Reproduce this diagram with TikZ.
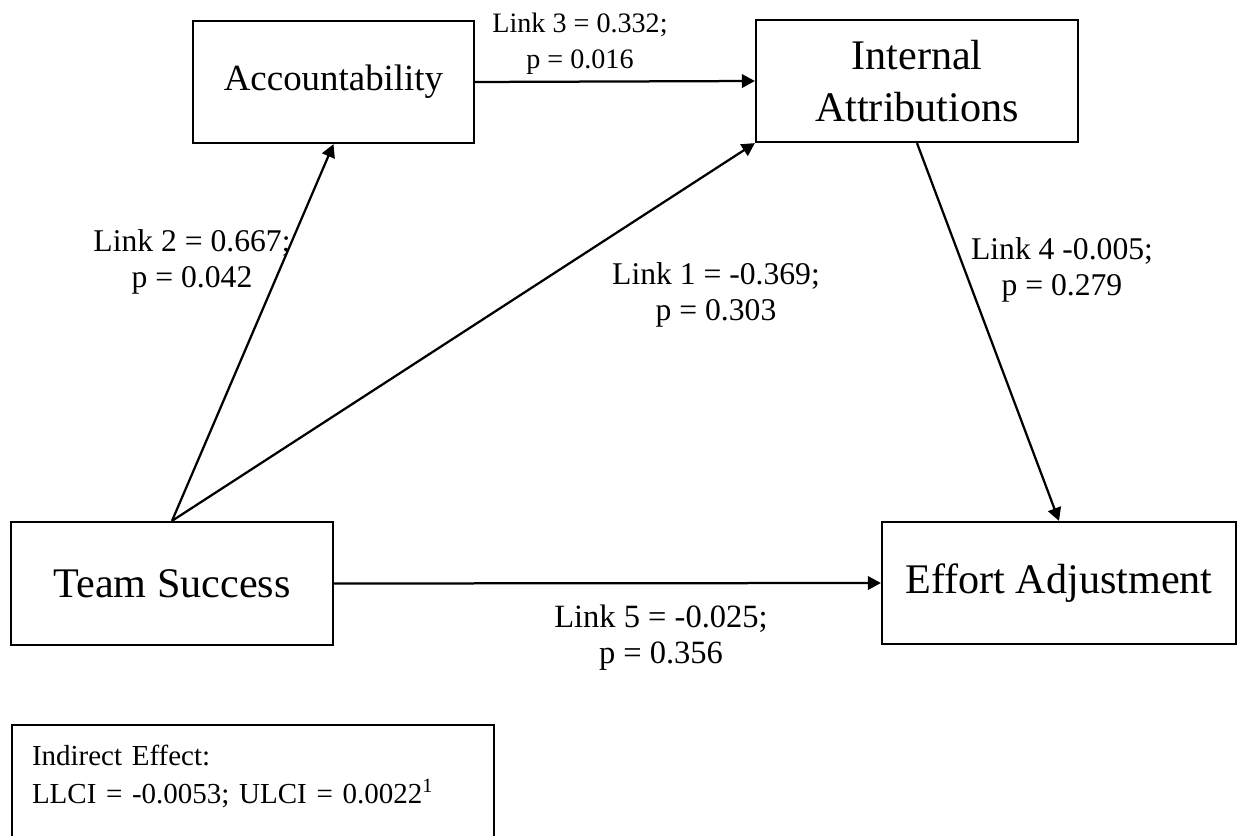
\documentclass[tikz,border=0pt]{standalone}
\usepackage{fontspec}
\setmainfont{Liberation Serif}
\usepackage{tikz}
\usetikzlibrary{arrows.meta,positioning}

\begin{document}
\begin{tikzpicture}[
    box/.style={draw, line width=0.045cm, align=center, inner sep=0pt,
        font=\fontsize{24}{29.5}\selectfont},
    link/.style={-{Triangle[length=0.26cm,width=0.27cm]}, line width=0.045cm},
    linklabel/.style={align=center, inner sep=0pt, font=\fontsize{18}{20.5}\selectfont}
]
    \useasboundingbox (0,0) rectangle (24.76,16.7);
    \begin{scope}
    \clip (0,0) rectangle (24.76,16.7);

    \node[box, minimum width=5.62cm, minimum height=2.44cm, font=\fontsize{21}{26}\selectfont] (acc) at (6.67,15.06) {Accountability};
    \node[box, minimum width=6.44cm, minimum height=2.44cm] (intr) at (18.34,15.08) {Internal\\Attributions};
    \node[box, minimum width=6.44cm, minimum height=2.46cm] (team) at (3.44,5.03) {Team Success};
    \node[box, minimum width=7.08cm, minimum height=2.44cm] (eff) at (21.18,5.04) {Effort Adjustment};

    \draw[link] (acc.east) -- (intr.west);
    \draw[link] (team.north) -- (acc.south);
    \draw[link] (team.north) -- (intr.south west);
    \draw[link] (intr.south) -- (eff.north);
    \draw[link] (team.east) -- (eff.west);

    \node[linklabel, font=\fontsize{16}{20.5}\selectfont] (l3) at (11.6,15.82) {Link 3 = 0.332;\\p = 0.016};
    \node[linklabel] (l2) at (3.84,11.46) {Link 2 = 0.667;\\p = 0.042};
    \node[linklabel] (l1) at (14.32,10.8) {Link 1 = -0.369;\\p = 0.303};
    \node[linklabel] (l4) at (21.24,11.3) {Link 4 -0.005;\\p = 0.279};
    \node[linklabel, font=\fontsize{18.5}{20.5}\selectfont] (l5) at (13.22,3.94) {Link 5 = -0.025;\\p = 0.356};

    \node[draw, line width=0.04cm, anchor=north west, text width=8.84cm, align=left,
        inner xsep=0.4cm, inner ysep=0.41cm, text depth=2.5cm,
        font=\fontsize{16.5}{21.6}\selectfont] (ind) at (0.22,2.22)
        {Indirect Effect:\\LLCI = -0.0053; ULCI = 0.0022\textsuperscript{1}};
    \end{scope}
\end{tikzpicture}
\end{document}
